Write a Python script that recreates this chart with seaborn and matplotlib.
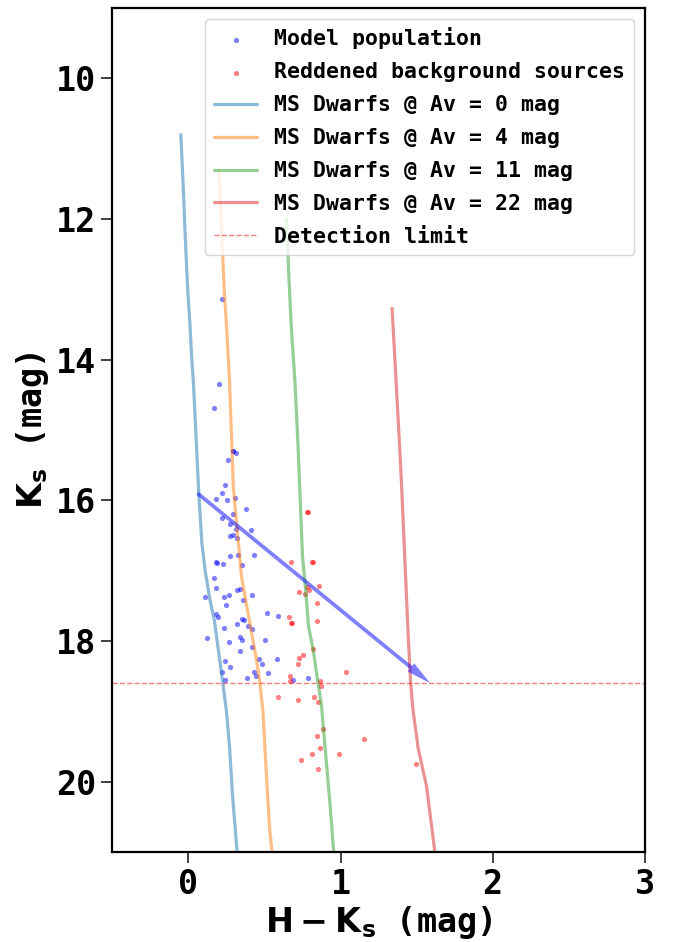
import seaborn as sns
import pandas as pd
import matplotlib.pyplot as plt

# main-sequence dwarf tracks, (H-Ks, Ks)
av0_hk = [-0.05, -0.035, -0.02, -0.005, 0.01, 0.022, 0.032, 0.048, 0.068, 0.088, 0.11, 0.14, 0.17, 0.195, 0.22, 0.25, 0.27, 0.29, 0.32]
av0_ks = [10.8, 11.5, 12.3, 13.0, 13.5, 14.0, 14.3, 15.0, 15.9, 16.6, 17.0, 17.4, 17.7, 18.1, 18.5, 19.0, 19.5, 20.2, 21.0]

av4_hk = [0.20, 0.215, 0.235, 0.25, 0.27, 0.285, 0.295, 0.315, 0.35, 0.40, 0.45, 0.47, 0.49, 0.50, 0.515, 0.535, 0.55]
av4_ks = [11.3, 12.0, 13.0, 13.5, 14.3, 15.2, 15.8, 16.3, 17.1, 17.7, 18.3, 18.6, 19.0, 19.4, 20.0, 20.7, 21.0]

av11_hk = [0.645, 0.66, 0.675, 0.70, 0.72, 0.735, 0.75, 0.765, 0.79, 0.82, 0.845, 0.874, 0.89, 0.91, 0.93, 0.955]
av11_ks = [12.0, 12.8, 13.5, 14.3, 15.2, 16.0, 16.8, 17.13, 17.8, 18.12, 18.5, 18.9, 19.3, 19.8, 20.3, 21.0]

av22_hk = [1.339, 1.355, 1.37, 1.385, 1.40, 1.422, 1.444, 1.461, 1.476, 1.51, 1.565, 1.597, 1.62]
av22_ks = [13.27, 13.9, 14.5, 15.1, 15.72, 16.8, 17.88, 18.6, 18.97, 19.52, 20.06, 20.6, 21.0]

# model population
model_hk = [0.219, 0.202, 0.165, 0.290, 0.296, 0.314, 0.259, 0.239, 0.222, 0.178, 0.254, 0.305,
            0.377, 0.294, 0.222, 0.270, 0.311, 0.412, 0.290, 0.276, 0.320, 0.276, 0.325, 0.432,
            0.184, 0.187, 0.230, 0.353, 0.169, 0.180, 0.318, 0.342, 0.106, 0.237, 0.265, 0.360,
            0.417, 0.246, 0.182, 0.193, 0.517, 0.592, 0.355, 0.368, 0.318, 0.390, 0.417, 0.233,
            0.119, 0.336, 0.355, 0.502, 0.265, 0.342, 0.417, 0.467, 0.583, 0.239, 0.484, 0.274,
            0.219, 0.432, 0.522, 0.384, 0.443, 0.241, 0.688, 0.785]
model_ks = [13.14, 14.34, 14.68, 15.30, 15.30, 15.32, 15.42, 15.78, 15.89, 15.98, 16.00, 15.97,
            16.12, 16.20, 16.25, 16.33, 16.41, 16.42, 16.49, 16.51, 16.53, 16.79, 16.78, 16.77,
            16.87, 16.89, 16.90, 16.92, 17.10, 17.24, 17.28, 17.26, 17.38, 17.37, 17.35, 17.42,
            17.35, 17.49, 17.61, 17.66, 17.60, 17.65, 17.69, 17.70, 17.76, 17.79, 17.83, 17.81,
            17.96, 17.94, 17.98, 17.99, 18.02, 18.14, 18.09, 18.25, 18.25, 18.28, 18.33, 18.37,
            18.44, 18.44, 18.45, 18.52, 18.50, 18.55, 18.55, 18.53]

# reddened background sources
bg_hk = [0.780, 0.785, 0.677, 0.815, 0.820, 0.861, 0.725, 0.765, 0.778, 0.795, 0.848, 0.662,
         0.675, 0.682, 0.848, 0.822, 0.750, 0.728, 0.719, 1.039, 0.668, 0.666, 0.868, 0.874,
         0.592, 0.723, 0.828, 0.852, 0.885, 0.848, 0.868, 1.157, 0.993, 0.815, 0.738, 0.850, 1.496]
bg_ks = [16.16, 16.16, 16.87, 16.88, 16.88, 17.22, 17.31, 17.33, 17.23, 17.27, 17.46, 17.66,
         17.75, 17.74, 17.71, 18.11, 18.20, 18.24, 18.32, 18.44, 18.50, 18.57, 18.57, 18.64,
         18.80, 18.84, 18.80, 18.87, 19.25, 19.35, 19.52, 19.39, 19.60, 19.61, 19.69, 19.82, 19.75]

det_limit = 18.6
vector_hk = [0.06, 1.59]
vector_ks = [15.9, 18.6]

tracks = [("0", av0_hk, av0_ks), ("4", av4_hk, av4_ks), ("11", av11_hk, av11_ks), ("22", av22_hk, av22_ks)]
colors = sns.color_palette("tab10", 4)

sns.set_style("ticks")
plt.rcParams["font.family"] = ["DejaVu Sans Mono"]
plt.rcParams["font.weight"] = "bold"
plt.rcParams["axes.labelweight"] = "bold"
plt.rcParams["text.color"] = "black"
plt.rcParams["axes.labelcolor"] = "black"
plt.rcParams["xtick.color"] = "black"
plt.rcParams["ytick.color"] = "black"
plt.rcParams["mathtext.fontset"] = "dejavusans"

fig, ax = plt.subplots(figsize=(6.73, 9.42), dpi=100)
fig.subplots_adjust(left=0.167, right=0.958, top=0.9915, bottom=0.0955)

sns.scatterplot(x=model_hk, y=model_ks, color="blue", alpha=0.5, s=14, linewidth=0,
                label="Model population", ax=ax)
sns.scatterplot(x=bg_hk, y=bg_ks, color="red", alpha=0.5, s=14, linewidth=0,
                label="Reddened background sources", ax=ax)

for (av, hk, ks), c in zip(tracks, colors):
    df = pd.DataFrame({"hk": hk, "ks": ks})
    sns.lineplot(data=df, x="hk", y="ks", sort=False, estimator=None, color=c, alpha=0.5,
                 lw=2.3, label=f"MS Dwarfs @ Av = {av} mag", ax=ax)

ax.axhline(det_limit, color="red", alpha=0.5, ls="--", lw=1, label="Detection limit")

# reddening vector
ax.annotate("", xy=(vector_hk[1], vector_ks[1]), xytext=(vector_hk[0], vector_ks[0]),
            arrowprops=dict(width=2.7, headwidth=7.5, headlength=18, shrink=0,
                            facecolor="blue", edgecolor="none", alpha=0.5))

ax.set_xlim(-0.5, 3)
ax.set_ylim(21, 9)
ax.set_xticks([0, 1, 2, 3])
ax.set_yticks([10, 12, 14, 16, 18, 20])
ax.tick_params(labelsize=24, length=8, width=1.3, color="#333333")
for sp in ax.spines.values():
    sp.set_linewidth(1.6)
    sp.set_color("black")
ax.set_xlabel(r"$\mathbf{H-K_s}$ (mag)", fontsize=24, labelpad=2)
ax.set_ylabel(r"$\mathbf{K_s}$ (mag)", fontsize=24)

ax.legend(loc="upper right", fontsize=15.5, labelspacing=0.6, framealpha=0.8)

fig.savefig("out.png", dpi=100)
